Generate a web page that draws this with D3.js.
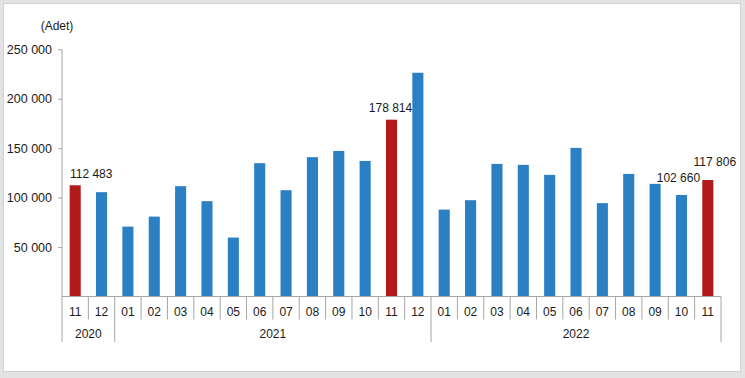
<!DOCTYPE html>
<html>
<head>
<meta charset="utf-8">
<script src="https://cdn.jsdelivr.net/npm/d3@7"></script>
<style>
  html, body { margin: 0; padding: 0; background: #fff; }
  svg { display: block; }
  text { font-family: "Liberation Sans", Arial, sans-serif; fill: #1a1a1a; }
</style>
</head>
<body>
<svg id="chart" width="745" height="378"></svg>
<script>
// ---- data ----
const months = ["11","12","01","02","03","04","05","06","07","08","09","10","11","12","01","02","03","04","05","06","07","08","09","10","11"];
const years = ["2020","2020","2021","2021","2021","2021","2021","2021","2021","2021","2021","2021","2021","2021","2022","2022","2022","2022","2022","2022","2022","2022","2022","2022","2022"];
const values = [112483,105500,70700,80800,111600,96400,59600,134800,107500,140900,147200,137100,178814,226300,87900,97400,134100,133100,123000,150300,94400,124000,113900,102660,117806];
const highlighted = [0, 12, 24];
const labelledIdx = [0, 12, 23, 24];
const labelDx = [16, -1, -3, 7];
const labelDy = [-7, -8, -13, -14];
const yTicks = [50000, 100000, 150000, 200000, 250000];
const unitLabel = "(Adet)";

// ---- layout ----
const W = 745, H = 378;
const svg = d3.select("#chart");
const blue = "#2b7fc3", red = "#b2191b", axisCol = "#a6a6a6";

// frame
svg.append("rect").attr("x", 0).attr("y", 0).attr("width", W).attr("height", H).attr("fill", "#e3e3e3");
svg.append("rect").attr("x", 3.5).attr("y", 3.5).attr("width", 737).attr("height", 368)
  .attr("fill", "#fff").attr("stroke", "#d0d0d0").attr("stroke-width", 1);

const x0 = 62, x1 = 721, yBase = 296.5, yTop = 49.3;
const idx = d3.range(values.length);
const x = d3.scaleBand().domain(idx).range([x0, x1]).paddingInner(0.58).paddingOuter(0.29);
const y = d3.scaleLinear().domain([0, 250000]).range([yBase, yTop]);
const fmt = v => d3.format(",")(v).replace(/,/g, " ");

// y axis
const yAxis = d3.axisLeft(y).tickValues(yTicks).tickSize(4).tickPadding(6).tickFormat(fmt);
const gy = svg.append("g").attr("transform", `translate(${x0},0)`).call(yAxis);
gy.select(".domain").attr("stroke", axisCol).attr("d", `M0,${yTop}V${yBase}`);
gy.selectAll(".tick line").attr("stroke", axisCol);
gy.selectAll(".tick text").attr("font-size", 12.5).attr("fill", "#1a1a1a")
  .style("font-family", '"Liberation Sans", Arial, sans-serif');

svg.append("text").attr("x", 57).attr("y", 30).attr("text-anchor", "middle")
  .attr("font-size", 12).text(unitLabel);

// bars
svg.append("g").selectAll("rect").data(idx).join("rect")
  .attr("x", i => x(i))
  .attr("width", x.bandwidth())
  .attr("y", i => y(values[i]))
  .attr("height", i => yBase - y(values[i]))
  .attr("fill", i => highlighted.includes(i) ? red : blue);

// x axis
const step = x.step();
const bandStart = i => x0 + i * step;
svg.append("line").attr("x1", x0).attr("x2", x1).attr("y1", yBase).attr("y2", yBase)
  .attr("stroke", axisCol);

const gx = svg.append("g");
// dividers
d3.range(values.length + 1).forEach(i => {
  const isYearEdge = i === 0 || i === values.length || years[i] !== years[i - 1];
  gx.append("line")
    .attr("x1", bandStart(i)).attr("x2", bandStart(i))
    .attr("y1", yBase).attr("y2", isYearEdge ? 342 : 319.5)
    .attr("stroke", axisCol);
});
// month labels
gx.selectAll("text.m").data(idx).join("text").attr("class", "m")
  .attr("x", i => x(i) + x.bandwidth() / 2)
  .attr("y", 316)
  .attr("text-anchor", "middle")
  .attr("font-size", 12)
  .text(i => months[i]);
// year labels
const yearGroups = d3.groups(idx, i => years[i]);
gx.selectAll("text.yr").data(yearGroups).join("text").attr("class", "yr")
  .attr("x", d => (bandStart(d[1][0]) + bandStart(d[1][d[1].length - 1] + 1)) / 2)
  .attr("y", 337.5)
  .attr("text-anchor", "middle")
  .attr("font-size", 12)
  .text(d => d[0]);

// value labels
svg.append("g").selectAll("text").data(labelledIdx).join("text")
  .attr("x", (i, k) => x(i) + x.bandwidth() / 2 + labelDx[k])
  .attr("y", (i, k) => y(values[i]) + labelDy[k])
  .attr("text-anchor", "middle")
  .attr("font-size", 12)
  .text(i => fmt(values[i]));
</script>
</body>
</html>
